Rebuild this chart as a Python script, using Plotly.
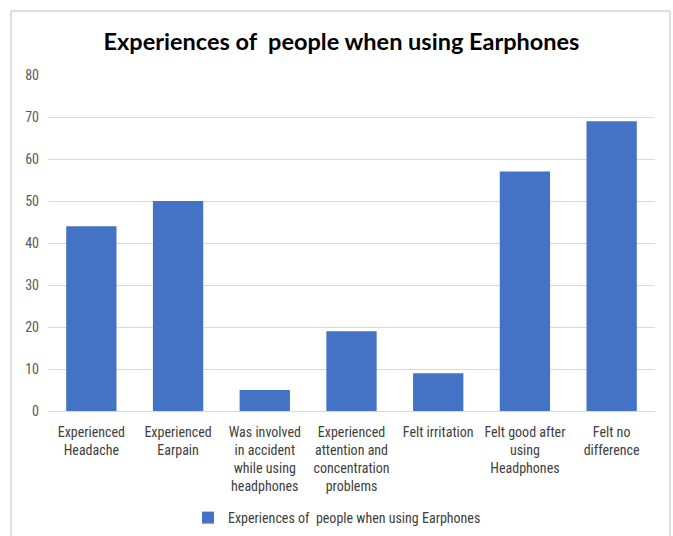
import plotly.graph_objects as go

categories = [
    "Experienced<br>Headache",
    "Experienced<br>Earpain",
    "Was involved<br>in accident<br>while using<br>headphones",
    "Experienced<br>attention and<br>concentration<br>problems",
    "Felt irritation",
    "Felt good after<br>using<br>Headphones",
    "Felt no<br>difference",
]
values = [44, 50, 5, 19, 9, 57, 69]
series_name = "Experiences of  people when using Earphones"
title_text = "Experiences of  people when using Earphones"

FONT = "Liberation Sans Narrow, Roboto Condensed, Lato, sans-serif"

fig = go.Figure()
fig.add_trace(go.Bar(
    x=categories, y=values, name=series_name,
    marker=dict(color="#4472c4", line=dict(width=0)),
    width=0.58, showlegend=True,
))

L, R, T, B = 48, 18, 75, 125
W, H = 673, 536
pw, ph = W - L - R, H - T - B

def px(x):
    return (x - L) / pw

def py(y):
    return (H - B - y) / ph

fig.add_shape(type="rect", xref="paper", yref="paper",
              x0=px(11), x1=px(670), y0=py(560), y1=py(11),
              line=dict(color="#bfbfbf", width=1), layer="below")

fig.update_layout(
    width=W, height=H,
    margin=dict(l=L, r=R, t=T, b=B, autoexpand=False),
    paper_bgcolor="white", plot_bgcolor="white",
    font=dict(family=FONT, color="#595959", size=14),
    title=dict(text="<b>" + title_text + "</b>", xref="paper", x=px(341.5), xanchor="center",
               y=1 - 42 / H, yanchor="middle",
               font=dict(family="Lato, Open Sans, sans-serif", size=23.5, color="#000000")),
    xaxis=dict(showgrid=False, showline=True, linecolor="#d9d9d9", linewidth=1,
               ticks="", tickangle=0, automargin=False, ticklabelstandoff=8,
               tickfont=dict(size=14, color="#404040")),
    yaxis=dict(range=[0, 80], dtick=10, showgrid=True, gridcolor="#d9d9d9",
               gridwidth=1, zeroline=False, showline=False, ticks="", automargin=False,
               ticklabelstandoff=8, tickfont=dict(size=14, color="#595959")),
    legend=dict(orientation="h", x=px(337), xanchor="center", y=py(518), yanchor="middle",
                font=dict(size=14, color="#404040"), itemwidth=30),
    bargap=0.42,
)

fig.write_html("out.html")
